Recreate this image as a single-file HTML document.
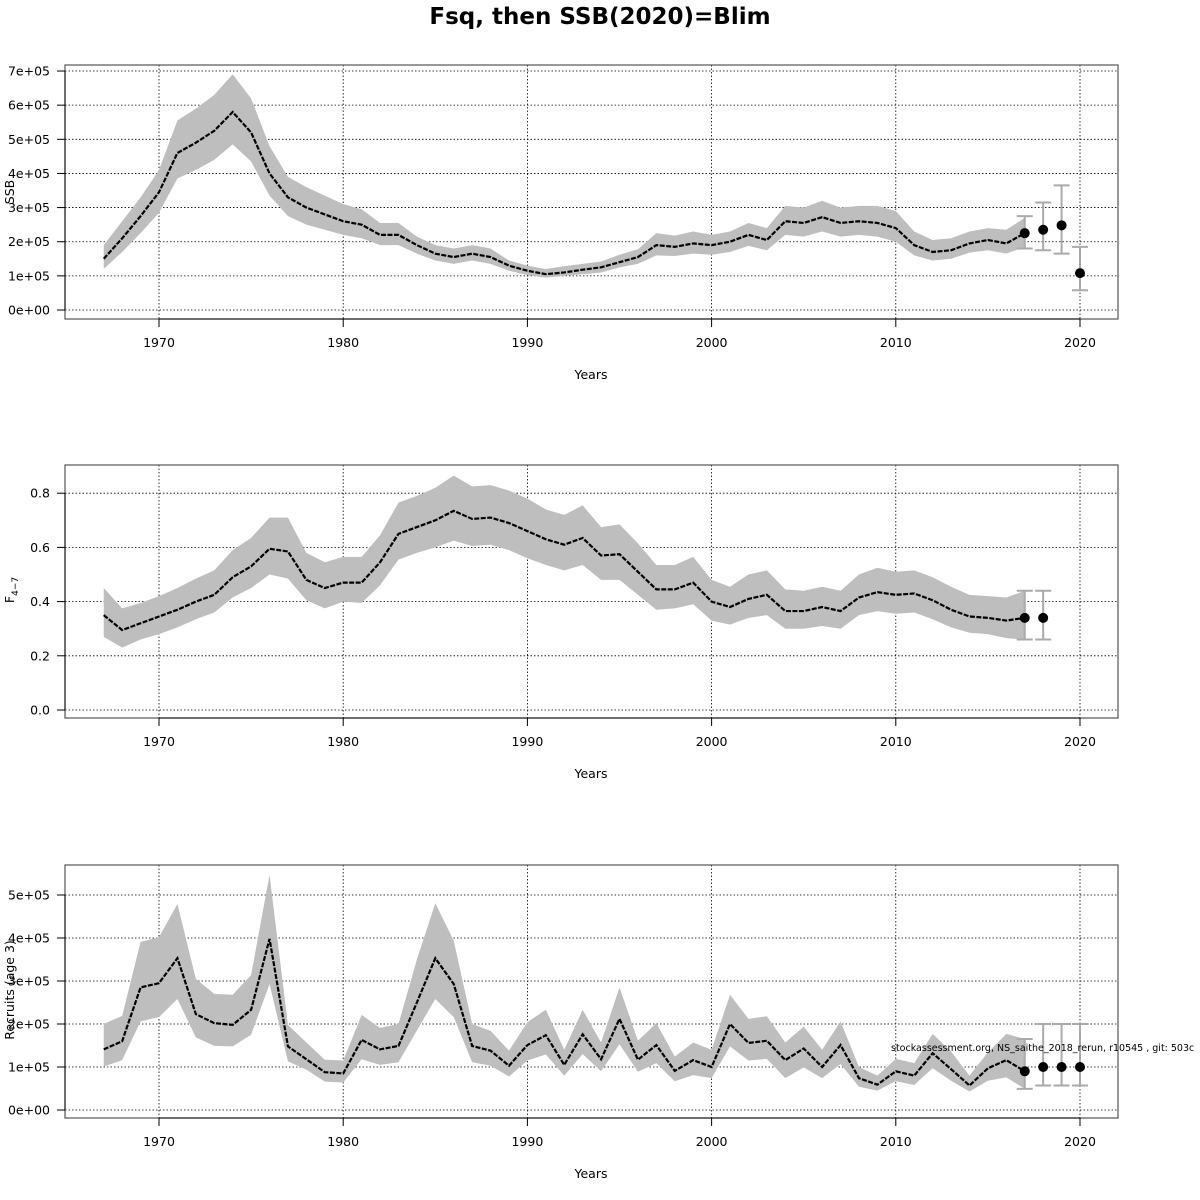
<!DOCTYPE html>
<html><head><meta charset="utf-8"><style>
html,body{margin:0;padding:0;background:#fff;}
svg{display:block;font-family:"DejaVu Sans","Liberation Sans",sans-serif;}
</style></head><body>
<svg id="chart" width="1200" height="1200" viewBox="0 0 1200 1200">
<text x="600" y="24" text-anchor="middle" font-size="23" font-weight="bold">Fsq, then SSB(2020)=Blim</text>
</svg>
<script>
const years = [1967,1968,1969,1970,1971,1972,1973,1974,1975,1976,1977,1978,1979,1980,1981,1982,1983,1984,1985,1986,1987,1988,1989,1990,1991,1992,1993,1994,1995,1996,1997,1998,1999,2000,2001,2002,2003,2004,2005,2006,2007,2008,2009,2010,2011,2012,2013,2014,2015,2016,2017];
const ssbMid = [1.5,2.1,2.75,3.45,4.6,4.9,5.25,5.8,5.2,4.0,3.3,3.0,2.8,2.6,2.5,2.2,2.2,1.9,1.65,1.55,1.65,1.55,1.3,1.15,1.05,1.1,1.18,1.25,1.4,1.55,1.9,1.85,1.95,1.9,2.0,2.2,2.05,2.6,2.55,2.72,2.55,2.6,2.55,2.4,1.9,1.7,1.75,1.95,2.05,1.95,2.25];
const ssbHigh = [1.9,2.6,3.3,4.1,5.55,5.9,6.3,6.9,6.2,4.8,3.9,3.6,3.35,3.1,2.95,2.55,2.55,2.15,1.9,1.8,1.9,1.8,1.45,1.3,1.2,1.28,1.35,1.42,1.62,1.78,2.25,2.18,2.3,2.2,2.3,2.55,2.4,3.05,3.0,3.2,3.0,3.05,3.05,2.9,2.3,2.05,2.1,2.3,2.4,2.35,2.7];
const ssbLow = [1.2,1.7,2.25,2.85,3.85,4.1,4.4,4.85,4.35,3.35,2.75,2.5,2.35,2.2,2.1,1.9,1.9,1.65,1.45,1.35,1.45,1.35,1.15,1.02,0.95,1.0,1.05,1.1,1.25,1.35,1.6,1.58,1.65,1.62,1.7,1.88,1.75,2.2,2.15,2.3,2.15,2.2,2.15,2.0,1.6,1.45,1.5,1.68,1.75,1.65,1.85];
const ssbFcYears = [2017,2018,2019,2020];
const ssbFcMid = [2.25,2.35,2.48,1.08];
const ssbFcHigh = [2.75,3.15,3.65,1.85];
const ssbFcLow = [1.8,1.75,1.65,0.58];
const ssbTicks = ["0e+00","1e+05","2e+05","3e+05","4e+05","5e+05","6e+05","7e+05"];

const fMid = [.35,.295,.32,.345,.37,.40,.425,.49,.53,.595,.585,.48,.45,.47,.47,.545,.65,.675,.70,.735,.705,.71,.69,.66,.63,.61,.635,.57,.575,.51,.445,.445,.47,.40,.38,.41,.425,.365,.365,.38,.365,.415,.435,.425,.43,.405,.37,.345,.34,.33,.34];
const fHigh = [.45,.375,.395,.42,.45,.485,.515,.59,.635,.71,.71,.58,.545,.565,.565,.645,.765,.79,.82,.865,.825,.83,.81,.78,.74,.72,.755,.675,.685,.615,.535,.535,.565,.48,.455,.5,.515,.445,.44,.455,.44,.5,.525,.51,.515,.49,.455,.425,.42,.415,.44];
const fLow = [.27,.23,.26,.28,.305,.335,.36,.415,.45,.50,.485,.405,.375,.4,.395,.46,.555,.58,.6,.625,.605,.61,.59,.56,.535,.515,.535,.48,.48,.425,.37,.375,.39,.33,.315,.34,.35,.30,.30,.31,.30,.35,.365,.355,.36,.335,.305,.285,.28,.265,.26];
const fFcYears = [2017,2018];
const fFcMid = [.34,.34];
const fFcHigh = [.44,.44];
const fFcLow = [.26,.26];
const fTicks = ["0.0","0.2","0.4","0.6","0.8"];

const recMid = [1.41,1.6,2.85,2.95,3.53,2.23,2.02,1.98,2.33,3.98,1.48,1.18,0.88,0.85,1.63,1.41,1.49,2.5,3.53,2.93,1.49,1.38,1.03,1.51,1.74,1.05,1.76,1.18,2.12,1.17,1.51,0.91,1.16,1.0,2.0,1.56,1.61,1.16,1.43,1.0,1.51,0.74,0.59,0.9,0.8,1.32,0.95,0.57,0.97,1.16,0.9];
const recHigh = [2.0,2.19,3.91,4.02,4.79,3.05,2.7,2.68,3.14,5.47,1.98,1.57,1.17,1.15,2.21,1.91,2.0,3.5,4.81,3.94,2.0,1.84,1.38,2.04,2.33,1.4,2.33,1.57,2.85,1.61,2.02,1.24,1.57,1.4,2.68,2.12,2.18,1.57,1.94,1.4,2.06,1.0,0.8,1.19,1.09,1.77,1.36,0.8,1.34,1.77,1.65];
const recLow = [1.01,1.16,2.06,2.16,2.58,1.69,1.49,1.48,1.75,2.93,1.13,0.94,0.66,0.64,1.18,1.05,1.11,1.85,2.58,2.16,1.11,1.03,0.78,1.15,1.29,0.8,1.3,0.9,1.53,0.89,1.09,0.67,0.81,0.74,1.48,1.15,1.19,0.74,0.99,0.74,1.07,0.54,0.45,0.67,0.58,0.97,0.68,0.43,0.68,0.76,0.49];
const recFcYears = [2017,2018,2019,2020];
const recFcMid = [0.9,1.0,1.0,1.0];
const recFcHigh = [1.65,2.0,2.0,2.0];
const recFcLow = [0.49,0.57,0.57,0.57];
const recTicks = ["0e+00","1e+05","2e+05","3e+05","4e+05","5e+05"];

const xTicks = [1970,1980,1990,2000,2010,2020];

const NS = "http://www.w3.org/2000/svg";
const svg = document.getElementById("chart");
function mk(tag, attrs, parent){
  const e = document.createElementNS(NS, tag);
  for (const k in attrs) e.setAttribute(k, attrs[k]);
  (parent||svg).appendChild(e);
  return e;
}
const xL = 65, xR = 1118;
function xs(yr){ return 159 + (yr - 1970) * 18.42; }

function panel(cfg){
  const g = mk("g", {});
  
  
  const ys = v => cfg.y0 - v * cfg.step;
  // grid
  xTicks.forEach(t => {
    const l = mk("line", {x1:xs(t), x2:xs(t), y1:cfg.top, y2:cfg.bot, stroke:"#000", "stroke-width":0.8, "stroke-dasharray":"1.5,2"}, g);
    
    
  });
  cfg.ticks.forEach((lab, i) => {
    const l = mk("line", {x1:xL, x2:xR, y1:ys(i*cfg.tickStep), y2:ys(i*cfg.tickStep), stroke:"#000", "stroke-width":0.8, "stroke-dasharray":"1.5,2"}, g);
    
    
  });
  // band
  let d = "M" + years.map((yr,i)=>xs(yr)+","+ys(cfg.high[i])).join("L");
  for (let i = years.length-1; i >= 0; i--) d += "L" + xs(years[i]) + "," + ys(cfg.low[i]);
  const band = mk("path", {d: d+"Z", fill:"#bebebe", stroke:"none"}, g);
  
  
  const line = mk("polyline", {points: years.map((yr,i)=>xs(yr)+","+ys(cfg.mid[i])).join(" "), fill:"none", stroke:"#000", "stroke-width":2.2, "stroke-dasharray":"5,1.5"}, g);
  
  
  // forecast
  cfg.fcY.forEach((yr, i) => {
    const x = xs(yr);
    const eb = mk("path", {d:`M${x},${ys(cfg.fcH[i])}V${ys(cfg.fcL[i])}M${x-8},${ys(cfg.fcH[i])}H${x+8}M${x-8},${ys(cfg.fcL[i])}H${x+8}`, stroke:"#aaa", "stroke-width":2, fill:"none"}, g);
    
    
    const c = mk("circle", {cx:x, cy:ys(cfg.fcM[i]), r:5, fill:"#000"}, g);
    
    
  });
  // box
  const box = mk("rect", {x:xL, y:cfg.top, width:xR-xL, height:cfg.bot-cfg.top, fill:"none", stroke:"#555", "stroke-width":1.2}, g);
  
  
  // y axis
  const ya = mk("line", {x1:xL, x2:xL, y1:ys(0), y2:ys((cfg.ticks.length-1)*cfg.tickStep), stroke:"#000"}, g);
  
  
  cfg.ticks.forEach((lab, i) => {
    const y = ys(i*cfg.tickStep);
    mk("line", {x1:57, x2:xL, y1:y, y2:y, stroke:"#000"}, g);
    const t = mk("text", {x:50, y:y+4.5, "text-anchor":"end", "font-size":12.5}, g);
    t.textContent = lab;
    
    
  });
  // x axis
  const xa = mk("line", {x1:xs(1970), x2:xs(2020), y1:cfg.bot, y2:cfg.bot, stroke:"#000"}, g);
  
  
  xTicks.forEach(tk => {
    mk("line", {x1:xs(tk), x2:xs(tk), y1:cfg.bot, y2:cfg.bot+8, stroke:"#000"}, g);
    const t = mk("text", {x:xs(tk), y:cfg.bot+28, "text-anchor":"middle", "font-size":12.5}, g);
    t.textContent = tk;
    
    
  });
  const xt = mk("text", {x:591, y:cfg.bot+60, "text-anchor":"middle", "font-size":12.5}, g);
  xt.textContent = "Years";
  
  
  const yt = mk("text", {x:0, y:0, "text-anchor":"middle", "font-size":12.5, transform:`translate(14,${cfg.yLabelY}) rotate(-90)`}, g);
  if (cfg.name === "f") {
    yt.textContent = "F";
    const sub = mk("tspan", {"font-size":9, dy:4}, yt);
    sub.textContent = "4\u22127";
  } else yt.textContent = cfg.yLabel;
  
  
}

panel({name:"ssb", top:65, bot:319, y0:310, step:34.14, tickStep:1, ticks:ssbTicks, mid:ssbMid, high:ssbHigh, low:ssbLow, fcY:ssbFcYears, fcM:ssbFcMid, fcH:ssbFcHigh, fcL:ssbFcLow, yLabel:"SSB", yLabelY:192});
panel({name:"f", top:465, bot:718, y0:710, step:271, tickStep:0.2, ticks:fTicks, mid:fMid, high:fHigh, low:fLow, fcY:fFcYears, fcM:fFcMid, fcH:fFcHigh, fcL:fFcLow, yLabel:"F", yLabelY:590});
panel({name:"recruits", top:865, bot:1118, y0:1110, step:43, tickStep:1, ticks:recTicks, mid:recMid, high:recHigh, low:recLow, fcY:recFcYears, fcM:recFcMid, fcH:recFcHigh, fcL:recFcLow, yLabel:"Recruits (age 3)", yLabelY:990});

const foot = mk("text", {x:891, y:1051, "font-size":9.5});
foot.textContent = "stockassessment.org, NS_saithe_2018_rerun, r10545 , git: 503c";


</script>
</body></html>
